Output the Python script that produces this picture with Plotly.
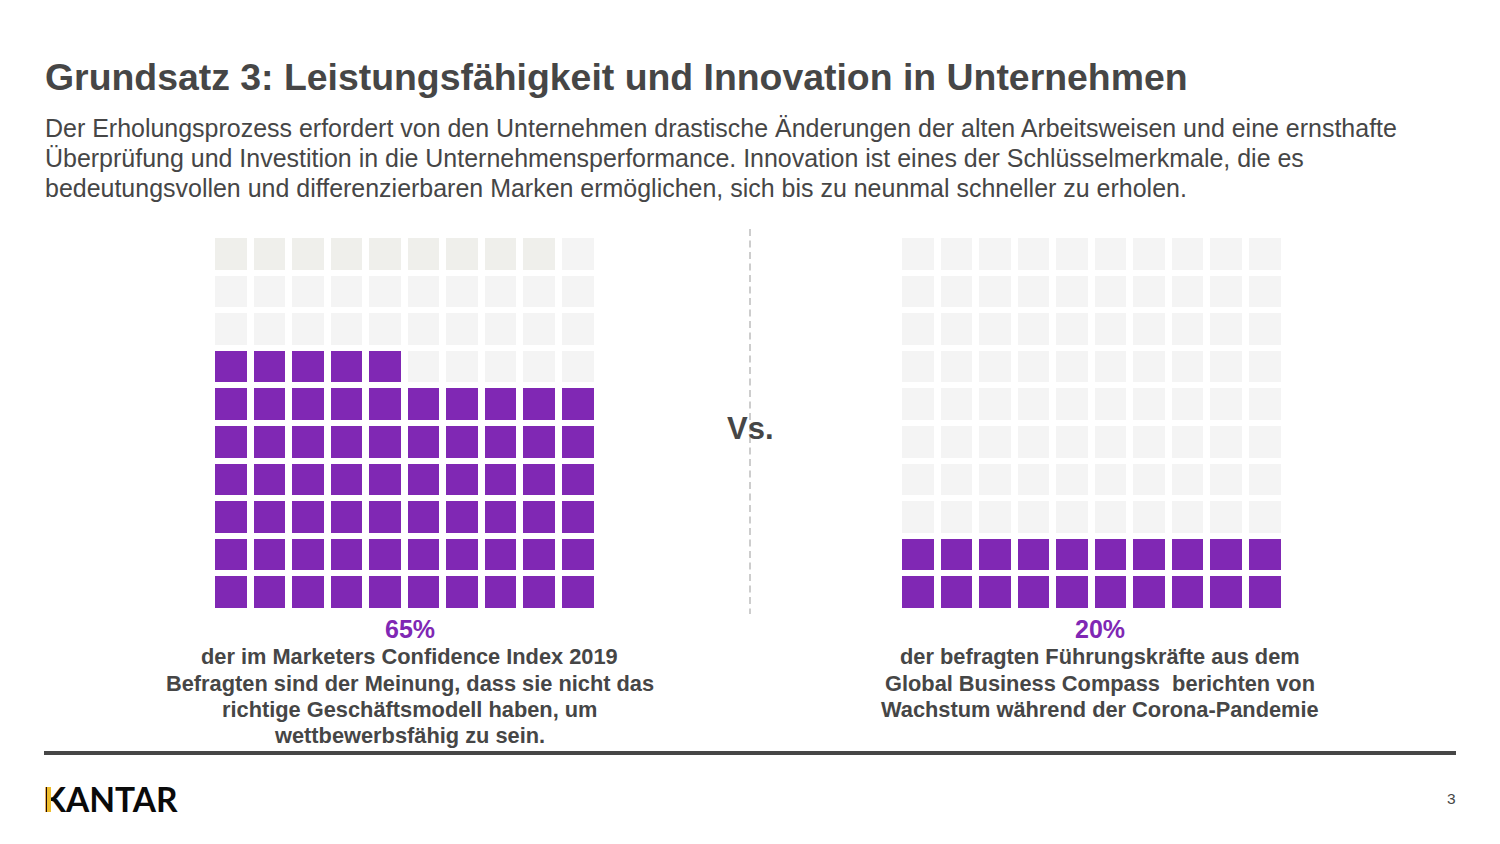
import plotly.graph_objects as go

TITLE = "Grundsatz 3: Leistungsfähigkeit und Innovation in Unternehmen"
BODY = [
    "Der Erholungsprozess erfordert von den Unternehmen drastische Änderungen der alten Arbeitsweisen und eine ernsthafte",
    "Überprüfung und Investition in die Unternehmensperformance. Innovation ist eines der Schlüsselmerkmale, die es",
    "bedeutungsvollen und differenzierbaren Marken ermöglichen, sich bis zu neunmal schneller zu erholen.",
]
left_pct = 65
right_pct = 20
left_tinted = 9
right_tinted = 0
left_pct_label = "65%"
right_pct_label = "20%"
left_caption = [
    "der im Marketers Confidence Index 2019",
    "Befragten sind der Meinung, dass sie nicht das",
    "richtige Geschäftsmodell haben, um",
    "wettbewerbsfähig zu sein.",
]
right_caption = [
    "der befragten Führungskräfte aus dem",
    "Global Business Compass  berichten von",
    "Wachstum während der Corona-Pandemie",
]
W, H = 1500, 844
DARK = "#464646"
PURPLE = "#8028B4"
LIGHT = "#F4F4F4"
TINT = "#EFEFEB"
FONT = "Liberation Sans"


def grid(filled, tinted):
    """10x10 waffle, row 0 at the bottom; filled from bottom-left, tinted from top-left."""
    z = [[0] * 10 for _ in range(10)]
    for i in range(filled):
        z[i // 10][i % 10] = 2
    for i in range(tinted):
        z[9 - i // 10][i % 10] = 1
    return z


scale = [[0, LIGHT], [0.333, LIGHT], [0.333, TINT], [0.667, TINT], [0.667, PURPLE], [1, PURPLE]]
fig = go.Figure()
for z, xa, ya in [(grid(left_pct, left_tinted), "x", "y"), (grid(right_pct, right_tinted), "x2", "y2")]:
    fig.add_trace(go.Heatmap(z=z, xaxis=xa, yaxis=ya, zmin=0, zmax=2, colorscale=scale,
                             showscale=False, xgap=7, ygap=6, hoverinfo="skip"))

ax = dict(visible=False, fixedrange=True, range=[-0.5, 9.5])
fig.update_layout(
    width=W, height=H, margin=dict(l=0, r=0, t=0, b=0), paper_bgcolor="white", plot_bgcolor="white",
    xaxis=dict(ax, domain=[212 / W, 597.5 / W]),
    xaxis2=dict(ax, domain=[899 / W, 1284.5 / W], anchor="y2"),
    yaxis=dict(ax, domain=[1 - 611 / H, 1 - 235 / H]),
    yaxis2=dict(ax, domain=[1 - 611 / H, 1 - 235 / H], anchor="x2"),
    showlegend=False,
)


def text(x, y, s, size, color=DARK, bold=False, anchor="left", family=FONT):
    fig.add_annotation(xref="paper", yref="paper", x=x / W, y=1 - y / H, text=f"<b>{s}</b>" if bold else s,
                       showarrow=False, xanchor=anchor, yanchor="middle",
                       font=dict(family=family, size=size, color=color), borderpad=0, borderwidth=0)


text(45, 77, TITLE, 37.4, bold=True)
for s, y in zip(BODY, [127.8, 157.8, 187.8]):
    text(44.5, y, s, 24.97)
text(750, 428, "Vs.", 31, bold=True, anchor="center")
text(409.5, 629, left_pct_label, 25, color=PURPLE, bold=True, anchor="center")
text(1099.5, 629, right_pct_label, 25, color=PURPLE, bold=True, anchor="center")
for s, y in zip(left_caption, [656, 683, 709, 735.5]):
    text(409.5, y, s, 21.8, bold=True, anchor="center")
for s, y in zip(right_caption, [656, 683, 709]):
    text(1099.5, y, s, 21.8, bold=True, anchor="center")
text(1455.5, 798.5, "3", 15.5, anchor="right")
text(43, 799, "<b>KANTAR</b>", 33.5, color="#0A0A0A", family="Lato")
# yellow accent on the K of the logo
fig.add_annotation(xref="paper", yref="paper", x=47 / W, y=1 - 799.5 / H, text=" ", showarrow=False,
                   xanchor="left", yanchor="middle", width=3.5, height=25, bgcolor="#EFBE2C",
                   borderpad=0, borderwidth=0, font=dict(size=1))

fig.add_shape(type="line", xref="paper", yref="paper", x0=750 / W, x1=750 / W, y0=1 - 229 / H, y1=1 - 614 / H,
              line=dict(color="#BDBDBD", width=1.5, dash="7px 4.5px"))
fig.add_shape(type="line", xref="paper", yref="paper", x0=44 / W, x1=1456 / W, y0=1 - 753 / H, y1=1 - 753 / H,
              line=dict(color=DARK, width=4))

fig.write_html("out.html", post_script="document.body.style.margin='0';",
               config={"displayModeBar": False})
